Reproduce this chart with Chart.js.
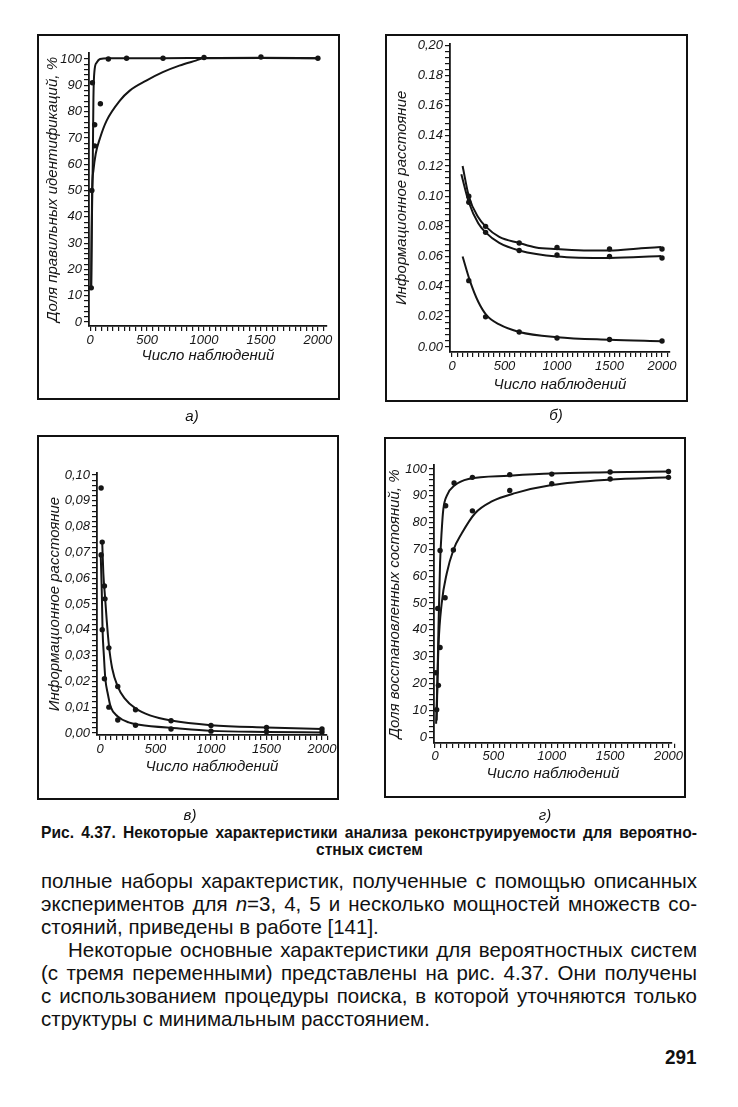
<!DOCTYPE html>
<html><head><meta charset="utf-8">
<script src="https://cdn.jsdelivr.net/npm/chart.js@4.4.1/dist/chart.umd.min.js"></script>
<style>
html,body{margin:0;padding:0;background:#fff;}
body{width:738px;height:1107px;position:relative;overflow:hidden;color:#111;font-family:"Liberation Sans",Arial,sans-serif;}
.box{position:absolute;border:2px solid #111;box-sizing:border-box;pointer-events:none;}
canvas{position:absolute;}
.lbl{position:absolute;font:italic 15px "Liberation Sans",Arial,sans-serif;transform:translate(-50%,-50%);white-space:nowrap;}
.tl{position:absolute;white-space:nowrap;transform-origin:0 0;color:#111;}
</style></head><body>
<script>
// ---------- tick labels ----------
const xTickLabels = ['0', '500', '1000', '1500', '2000'];
const yTickLabelsA = ['0', '10', '20', '30', '40', '50', '60', '70', '80', '90', '100'];
const yTickLabelsB = ['0.00', '0.02', '0.04', '0.06', '0.08', '0.10', '0.12', '0.14', '0.16', '0.18', '0,20'];
const yTickLabelsC = ['0,00', '0,01', '0,02', '0,03', '0,04', '0,05', '0,06', '0,07', '0,08', '0,09', '0,10'];
const yTickLabelsD = ['0', '10', '20', '30', '40', '50', '60', '70', '80', '90', '100'];

const xTitle = 'Число наблюдений';
const yTitleA = 'Доля правильных идентификаций, %';
const yTitleB = 'Информационное расстояние';
const yTitleC = 'Информационное расстояние';
const yTitleD = 'Доля восстановленных состояний, %';

// ---------- panel а) ----------
const aDotsX = [10, 15, 20, 40, 40, 90, 160, 320, 640, 1000, 1500, 2000];
const aDotsY = [13, 50, 91, 75, 67, 83, 100, 100.3, 100.3, 100.6, 100.8, 100.3];
const aFastX = [9, 14, 23, 29, 38, 58, 87, 160, 320, 640, 1000, 1500, 2000];
const aFastY = [13, 35, 60, 85.5, 95.5, 98.7, 100, 100.3, 100.3, 100.3, 100.4, 100.5, 100.3];
const aSlowX = [9, 17, 29, 49, 87, 145, 261, 348, 493, 638, 783, 928, 1000, 1500, 2000];
const aSlowY = [13, 48.9, 57.7, 64, 70, 76.6, 84.2, 88, 91.8, 95, 97.5, 99.4, 100.3, 100.4, 100.3];

// ---------- panel б) ----------
const bDotsX = [160, 320, 640, 1000, 1500, 2000];
const bUpperDotsY = [0.100, 0.080, 0.069, 0.066, 0.065, 0.065];
const bLowerDotsY = [0.096, 0.076, 0.064, 0.061, 0.060, 0.059];
const bBottomDotsY = [0.044, 0.020, 0.010, 0.006, 0.005, 0.004];
const bUpperX = [101, 160, 250, 320, 450, 640, 800, 1000, 1300, 1500, 1800, 1990];
const bUpperY = [0.120, 0.100, 0.086, 0.080, 0.073, 0.069, 0.066, 0.065, 0.064, 0.064, 0.0655, 0.0663];
const bLowerX = [89, 160, 250, 320, 450, 640, 1000, 1500, 1990];
const bLowerY = [0.1145, 0.096, 0.082, 0.076, 0.069, 0.064, 0.060, 0.0590, 0.0603];
const bBottomX = [101, 170, 250, 330, 450, 640, 1000, 1500, 2000];
const bBottomY = [0.060, 0.044, 0.030, 0.021, 0.015, 0.010, 0.0065, 0.0048, 0.0038];

// ---------- panel в) ----------
const cUpperDotsX = [20, 40, 45, 80, 160, 320, 640, 1000, 1500, 2000];
const cUpperDotsY = [0.074, 0.057, 0.052, 0.033, 0.018, 0.009, 0.0047, 0.0029, 0.0021, 0.0015];
const cLowerDotsX = [10, 10, 20, 40, 80, 160, 320, 640, 1000, 1500, 2000];
const cLowerDotsY = [0.095, 0.069, 0.040, 0.021, 0.010, 0.005, 0.003, 0.0015, 0.0007, 0.0005, 0.0004];
const cUpperX = [20, 30, 45, 60, 80, 110, 160, 220, 320, 450, 640, 1000, 1500, 2000];
const cUpperY = [0.074, 0.062, 0.053, 0.044, 0.034, 0.025, 0.018, 0.0135, 0.0095, 0.0068, 0.0048, 0.0030, 0.0021, 0.0015];
const cLowerX = [6, 16, 23, 35, 48, 71, 97, 160, 258, 355, 694, 1000, 1500, 2000];
const cLowerY = [0.070, 0.055, 0.040, 0.030, 0.021, 0.015, 0.010, 0.0064, 0.0041, 0.0032, 0.0018, 0.0008, 0.0004, 0.0002];

// ---------- panel г) ----------
const dUpperDotsX = [6, 23, 43, 91, 163, 320, 640, 1000, 1500, 2000];
const dUpperDotsY = [24, 48, 69.6, 86.3, 94.8, 96.9, 97.9, 98.1, 98.9, 99.1];
const dLowerDotsX = [14, 29, 43, 86, 157, 320, 640, 1000, 1500, 2000];
const dLowerDotsY = [10.2, 19.3, 33.4, 52, 69.8, 84.4, 92, 94.5, 96.3, 96.9];
const dUpperX = [14, 29, 43, 57, 71, 100, 171, 286, 629, 1000, 1486, 2000];
const dUpperY = [6.2, 40, 65, 77, 85, 90, 94, 96.3, 97.5, 98.3, 98.75, 99.1];
const dLowerX = [9, 20, 29, 57, 100, 157, 229, 343, 486, 686, 1000, 1486, 2000];
const dLowerY = [5, 20, 33.7, 49.9, 61, 69.8, 76, 83.5, 87.9, 91, 94, 96, 96.9];

// ---------- helpers ----------
function pts(xs, ys) { return xs.map((x, i) => ({ x: x, y: ys[i] })); }
function makeTicks(top, minor, major, labels) {
  const n = Math.round(top / minor), per = Math.round(major / minor);
  const vals = [], text = [];
  for (let i = 0; i <= n; i++) {
    vals.push(Math.round(i * minor * 1e6) / 1e6);
    text.push(i % per === 0 ? labels[i / per] : '');
  }
  return { vals, text };
}
const INK = '#151515';
function curve(d) {
  return { data: d, showLine: true, pointRadius: 0, borderColor: INK, borderWidth: 2,
    cubicInterpolationMode: 'monotone', fill: false };
}
function dots(d) {
  return { data: d, showLine: false, pointRadius: 2.7, pointBackgroundColor: INK, pointBorderWidth: 0 };
}

function makePanel(p) {
  const W = p.box.r - p.box.l, H = p.box.b - p.box.t;
  const c = document.createElement('canvas');
  c.width = W; c.height = H;
  c.style.left = p.box.l + 'px'; c.style.top = p.box.t + 'px';
  c.style.width = W + 'px'; c.style.height = H + 'px';
  document.body.appendChild(c);
  const bx = document.createElement('div');
  bx.className = 'box';
  bx.style.left = p.box.l + 'px'; bx.style.top = p.box.t + 'px';
  bx.style.width = W + 'px'; bx.style.height = H + 'px';
  document.body.appendChild(bx);

  const fam = '"Liberation Sans", Arial, sans-serif';
  const tickFont = { family: fam, size: 13, style: 'italic' };
  const titleSize = 15, lh = titleSize * 1.2;
  const titleFont = { family: fam, size: titleSize, style: 'italic' };
  const xt = makeTicks(2050, 50, 500, xTickLabels);
  const yt = makeTicks(p.yTop, p.yMinor, p.yMajor, p.yLabels);

  new Chart(c, {
    type: 'scatter',
    data: { datasets: p.datasets },
    options: {
      responsive: false, animation: false, events: [],
      layout: { padding: { left: 0, top: p.area.t - p.box.t, right: p.box.r - p.area.r, bottom: 0 } },
      plugins: { legend: { display: false }, tooltip: { enabled: false } },
      scales: {
        x: {
          type: 'linear', min: p.xMin, max: p.xMax,
          afterBuildTicks: s => { s.ticks = xt.vals.map(v => ({ value: v })); },
          afterFit: s => { s.height = p.box.b - p.area.b; },
          ticks: { autoSkip: false, maxRotation: 0, minRotation: 0, padding: p.xTickPad, color: INK, font: tickFont,
            callback: (v, i) => xt.text[i] },
          grid: { drawOnChartArea: false, drawTicks: true, tickLength: 5, color: INK, lineWidth: 1.2 },
          border: { display: true, color: INK, width: 1.8 },
          title: { display: true, text: xTitle, color: INK, font: titleFont,
            padding: { top: 0, bottom: (p.box.b - p.xTitleY) - lh / 2 } }
        },
        y: {
          type: 'linear', min: p.yMin, max: p.yMax,
          afterBuildTicks: s => { s.ticks = yt.vals.map(v => ({ value: v })); },
          afterFit: s => { s.width = p.area.l - p.box.l; },
          ticks: { autoSkip: false, padding: 2, color: INK, font: tickFont,
            callback: (v, i) => yt.text[i] },
          grid: { drawOnChartArea: false, drawTicks: true, tickLength: 5, color: INK, lineWidth: 1.2 },
          border: { display: true, color: INK, width: 1.8 },
          title: { display: true, text: p.yTitle, color: INK, font: titleFont,
            padding: { top: (p.yTitleX - p.box.l) - lh / 2, bottom: 0 } }
        }
      }
    }
  });
}

// ---------- panels ----------
makePanel({
  box: { l: 37, t: 34, r: 340, b: 400 }, area: { l: 89, t: 53, r: 327, b: 326 },
  xMin: -10, xMax: 2080, yMin: -1.5, yMax: 102.3,
  yTop: 100, yMinor: 2, yMajor: 10, yLabels: yTickLabelsA,
  yTitle: yTitleA, xTitleY: 356, yTitleX: 53, xTickPad: 2,
  datasets: [dots(pts(aDotsX, aDotsY)), curve(pts(aFastX, aFastY)), curve(pts(aSlowX, aSlowY))]
});
makePanel({
  box: { l: 385, t: 34, r: 688, b: 402 }, area: { l: 450, t: 43, r: 670, b: 352 },
  xMin: -19, xMax: 2076, yMin: -0.0033, yMax: 0.201,
  yTop: 0.2, yMinor: 0.004, yMajor: 0.02, yLabels: yTickLabelsB,
  yTitle: yTitleB, xTitleY: 385, yTitleX: 402, xTickPad: 2,
  datasets: [dots(pts(bDotsX, bUpperDotsY)), dots(pts(bDotsX, bLowerDotsY)), dots(pts(bDotsX, bBottomDotsY)),
    curve(pts(bUpperX, bUpperY)), curve(pts(bLowerX, bLowerY)), curve(pts(bBottomX, bBottomY))]
});
makePanel({
  box: { l: 37, t: 435, r: 339, b: 800 }, area: { l: 97, t: 473, r: 327, b: 735 },
  xMin: -27, xMax: 2045, yMin: -0.0008, yMax: 0.1008,
  yTop: 0.1, yMinor: 0.002, yMajor: 0.01, yLabels: yTickLabelsC,
  yTitle: yTitleC, xTitleY: 767, yTitleX: 55, xTickPad: 2,
  datasets: [dots(pts(cUpperDotsX, cUpperDotsY)), dots(pts(cLowerDotsX, cLowerDotsY)),
    curve(pts(cUpperX, cUpperY)), curve(pts(cLowerX, cLowerY))]
});
makePanel({
  box: { l: 384, t: 437, r: 686, b: 798 }, area: { l: 434, t: 465, r: 672, b: 743 },
  xMin: -9, xMax: 2030, yMin: -2.2, yMax: 101.5,
  yTop: 100, yMinor: 2, yMajor: 10, yLabels: yTickLabelsD,
  yTitle: yTitleD, xTitleY: 774, yTitleX: 395, xTickPad: 1,
  datasets: [dots(pts(dUpperDotsX, dUpperDotsY)), dots(pts(dLowerDotsX, dLowerDotsY)),
    curve(pts(dUpperX, dUpperY)), curve(pts(dLowerX, dLowerY))]
});

// ---------- page text ----------
function addLbl(txt, x, y) {
  const d = document.createElement('div');
  d.className = 'lbl'; d.textContent = txt; d.style.left = x + 'px'; d.style.top = y + 'px';
  document.body.appendChild(d);
}
addLbl('а)', 192, 415); addLbl('б)', 556, 414);
addLbl('в)', 190, 814); addLbl('г)', 545, 814);

// typeset a block of lines: a common horizontal condensation k (fit to the tightest
// justified line), then each justified line filled by word spacing
function typeset(lines, top0, step, left, width, font, tight) {
  const els = lines.map((ln, i) => {
    const d = document.createElement('div');
    d.className = 'tl';
    d.style.top = (top0 + i * step) + 'px';
    d.style.left = (left + ln.indent) + 'px';
    d.style.font = font; d.style.lineHeight = step + 'px';
    d.innerHTML = ln.html;
    document.body.appendChild(d);
    return { d, ln, w: d.getBoundingClientRect().width };
  });
  let k = 1;
  els.forEach(e => { if (e.ln.mode === 'justify') k = Math.min(k, (width - e.ln.indent) / e.w); });
  k *= tight;
  els.forEach(e => {
    const avail = width - e.ln.indent;
    if (e.ln.mode === 'justify') {
      const spaces = (e.d.textContent.match(/ /g) || []).length;
      if (spaces) e.d.style.wordSpacing = ((avail / k - e.w) / spaces) + 'px';
    } else if (e.ln.mode === 'center') {
      e.d.style.left = (left + (avail - e.w * k) / 2) + 'px';
    } else if (e.ln.mode === 'right') {
      e.d.style.left = (left + avail - e.w * k) + 'px';
    }
    e.d.style.transform = 'scaleX(' + k + ')';
  });
}
const TL = 41, TW = 656;
typeset([
  { html: 'Рис. 4.37. Некоторые характеристики анализа реконструируемости для вероятно-', mode: 'justify', indent: 0 },
  { html: 'стных систем', mode: 'center', indent: 0 }
], 824, 17, TL, TW, 'bold 17px "Liberation Sans", Arial, sans-serif', 0.97);

typeset([
  { html: 'полные наборы характеристик, полученные с помощью описанных', mode: 'justify', indent: 0 },
  { html: 'экспериментов для <i>n</i>=3, 4, 5 и несколько мощностей множеств со-', mode: 'justify', indent: 0 },
  { html: 'стояний, приведены в работе [141].', mode: 'left', indent: 0 },
  { html: 'Некоторые основные характеристики для вероятностных систем', mode: 'justify', indent: 27 },
  { html: '(с тремя переменными) представлены на рис. 4.37. Они получены', mode: 'justify', indent: 0 },
  { html: 'с использованием процедуры поиска, в которой уточняются только', mode: 'justify', indent: 0 },
  { html: 'структуры с минимальным расстоянием.', mode: 'left', indent: 0 }
], 869, 23, TL, TW, '21px "Liberation Sans", Arial, sans-serif', 0.985);

typeset([{ html: '291', mode: 'right', indent: 0 }], 1045, 23, TL, TW,
  'bold 21px "Liberation Sans", Arial, sans-serif', 0.9);
</script>
</body></html>
